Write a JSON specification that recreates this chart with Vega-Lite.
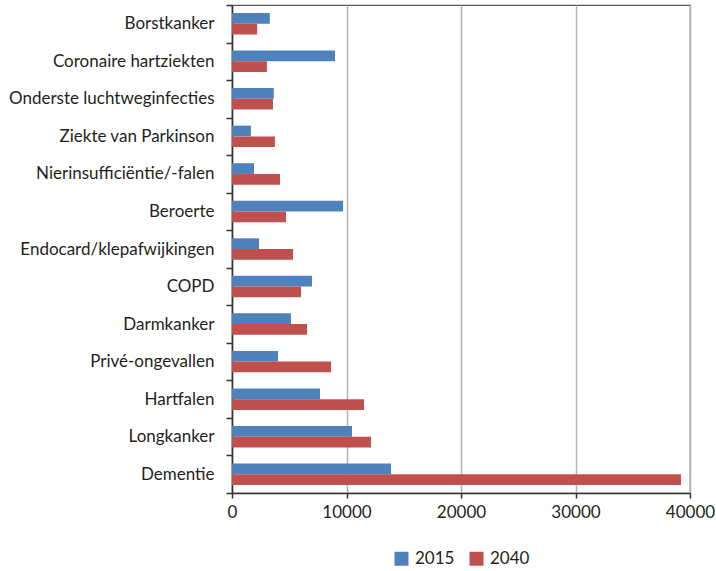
{
  "$schema": "https://vega.github.io/schema/vega-lite/v6.json",
  "width": 458,
  "height": 488,
  "autosize": "none",
  "padding": {"left": 232, "top": 5, "right": 26, "bottom": 78},
  "background": "white",
  "config": {
    "font": "Lato",
    "view": {"stroke": "#595959", "strokeWidth": 1.2},
    "axis": {"labelFont": "Lato", "labelColor": "#231f20", "domainColor": "#333333", "tickColor": "#333333", "domainWidth": 1.5, "tickWidth": 1.5}
  },
  "data": {
    "values": [
      {"oorzaak": "Borstkanker", "jaar": "2015", "waarde": 3300},
      {"oorzaak": "Borstkanker", "jaar": "2040", "waarde": 2200},
      {"oorzaak": "Coronaire hartziekten", "jaar": "2015", "waarde": 9000},
      {"oorzaak": "Coronaire hartziekten", "jaar": "2040", "waarde": 3050},
      {"oorzaak": "Onderste luchtweginfecties", "jaar": "2015", "waarde": 3650},
      {"oorzaak": "Onderste luchtweginfecties", "jaar": "2040", "waarde": 3580},
      {"oorzaak": "Ziekte van Parkinson", "jaar": "2015", "waarde": 1650},
      {"oorzaak": "Ziekte van Parkinson", "jaar": "2040", "waarde": 3750},
      {"oorzaak": "Nierinsufficiëntie/-falen", "jaar": "2015", "waarde": 1920},
      {"oorzaak": "Nierinsufficiëntie/-falen", "jaar": "2040", "waarde": 4190},
      {"oorzaak": "Beroerte", "jaar": "2015", "waarde": 9700},
      {"oorzaak": "Beroerte", "jaar": "2040", "waarde": 4720},
      {"oorzaak": "Endocard/klepafwijkingen", "jaar": "2015", "waarde": 2360},
      {"oorzaak": "Endocard/klepafwijkingen", "jaar": "2040", "waarde": 5330},
      {"oorzaak": "COPD", "jaar": "2015", "waarde": 6990},
      {"oorzaak": "COPD", "jaar": "2040", "waarde": 6030},
      {"oorzaak": "Darmkanker", "jaar": "2015", "waarde": 5150},
      {"oorzaak": "Darmkanker", "jaar": "2040", "waarde": 6550},
      {"oorzaak": "Privé-ongevallen", "jaar": "2015", "waarde": 4020},
      {"oorzaak": "Privé-ongevallen", "jaar": "2040", "waarde": 8650},
      {"oorzaak": "Hartfalen", "jaar": "2015", "waarde": 7690},
      {"oorzaak": "Hartfalen", "jaar": "2040", "waarde": 11530},
      {"oorzaak": "Longkanker", "jaar": "2015", "waarde": 10480},
      {"oorzaak": "Longkanker", "jaar": "2040", "waarde": 12140},
      {"oorzaak": "Dementie", "jaar": "2015", "waarde": 13890},
      {"oorzaak": "Dementie", "jaar": "2040", "waarde": 39210}
    ]
  },
  "mark": {"type": "bar"},
  "encoding": {
    "y": {
      "field": "oorzaak",
      "type": "nominal",
      "sort": ["Borstkanker", "Coronaire hartziekten", "Onderste luchtweginfecties", "Ziekte van Parkinson", "Nierinsufficiëntie/-falen", "Beroerte", "Endocard/klepafwijkingen", "COPD", "Darmkanker", "Privé-ongevallen", "Hartfalen", "Longkanker", "Dementie"],
      "scale": {"paddingInner": 0, "paddingOuter": 0},
      "axis": {"title": null, "tickBand": "extent", "tickSize": 6, "labelPadding": 12, "labelFontSize": 17, "labelLimit": 0, "grid": false}
    },
    "yOffset": {"field": "jaar", "type": "nominal", "sort": ["2015", "2040"], "scale": {"paddingInner": 0, "paddingOuter": 0.75}},
    "x": {
      "field": "waarde",
      "type": "quantitative",
      "scale": {"domain": [0, 40000], "nice": false},
      "axis": {"title": null, "values": [0, 10000, 20000, 30000, 40000], "format": "d", "tickSize": 5, "labelPadding": 6, "labelFontSize": 17, "labelFlush": false, "labelOverlap": false, "grid": true, "gridColor": "#b3b3b3", "gridWidth": 1.5}
    },
    "color": {
      "field": "jaar",
      "type": "nominal",
      "scale": {"domain": ["2015", "2040"], "range": ["#4f81bd", "#c0504d"]},
      "legend": {"title": null, "orient": "none", "direction": "horizontal", "legendX": 161, "legendY": 545, "symbolType": "square", "symbolSize": 196, "symbolStrokeWidth": 0, "labelFont": "Lato", "labelFontSize": 17, "labelColor": "#231f20", "labelOffset": 5, "columnPadding": 13, "padding": 0}
    }
  }
}
